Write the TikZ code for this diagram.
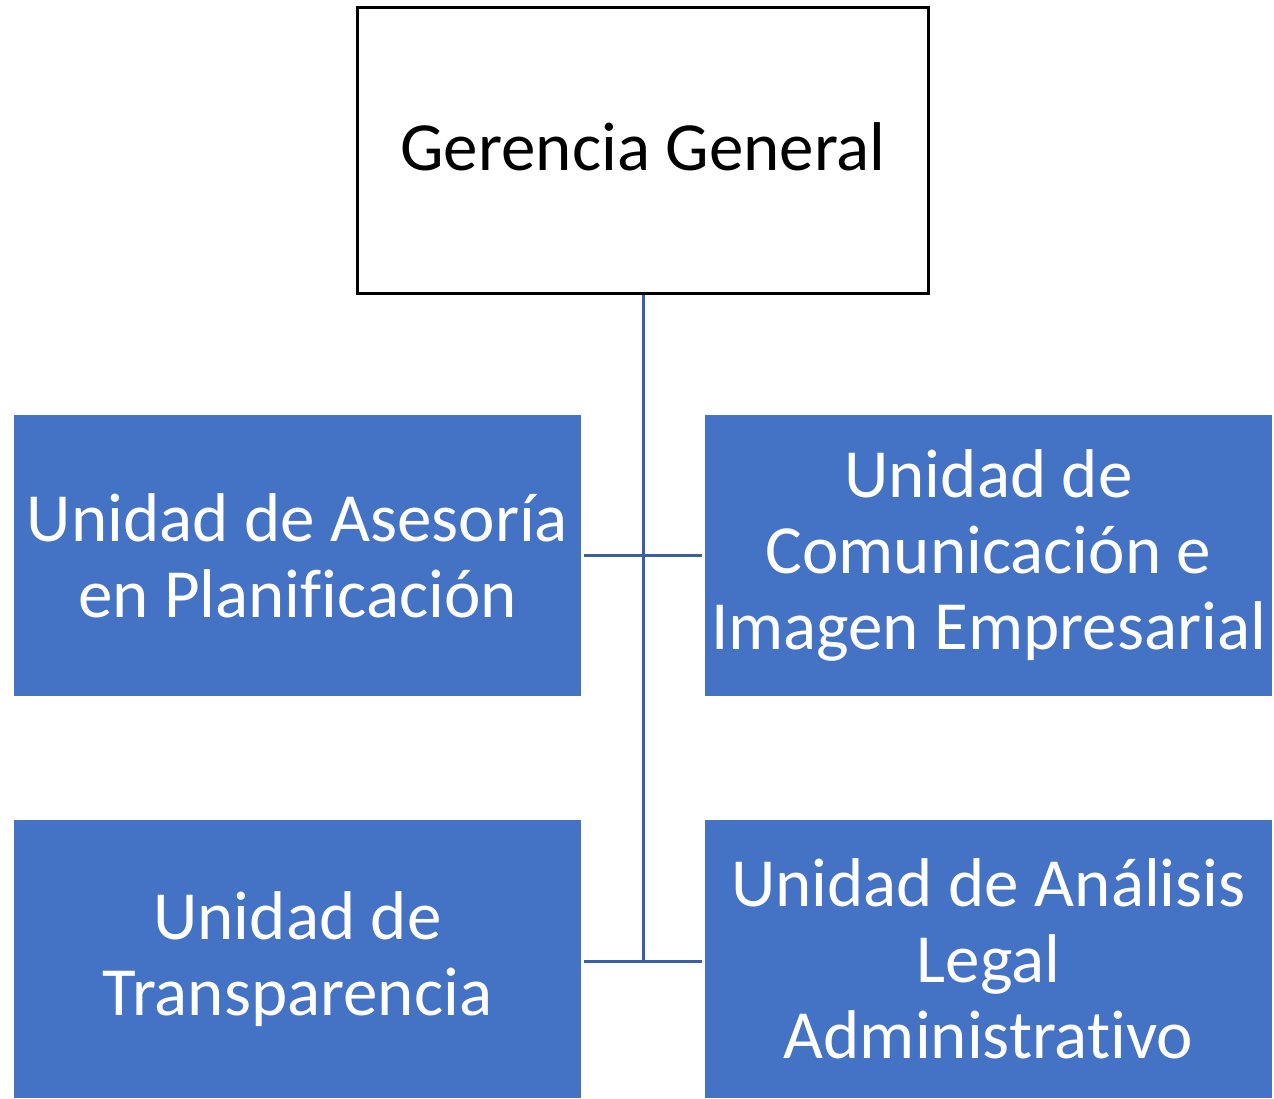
\documentclass[tikz,border=0pt]{standalone}
\usepackage{fontspec}
\setmainfont[Ligatures=NoCommon]{Carlito}
\definecolor{boxblue}{HTML}{4472C4}
\definecolor{linkblue}{HTML}{3A5FA8}
\begin{document}
\begin{tikzpicture}[x=1pt,y=-1pt,
  topbox/.style={draw=black,line width=3pt,fill=white,minimum width=571pt,minimum height=286pt,inner sep=0pt,
    font=\fontsize{69}{76}\selectfont,text=black},
  unitbox/.style={fill=boxblue,minimum width=567pt,inner sep=0pt,align=center,
    font=\fontsize{69}{76}\selectfont,text=white},
  link/.style={draw=linkblue,line width=3pt}]
\useasboundingbox (0,0) rectangle (1274,1098);
\node[topbox] (gg) at (643,150) {};
\node (ggt) at (643,147) [font=\fontsize{69}{76}\selectfont,inner sep=0pt] {Gerencia General};
\node[unitbox,minimum height=281pt] (ap) at (297.5,555.5) {Unidad de Asesoría\\en Planificación};
\node[unitbox,minimum height=281pt] (ci) at (988.5,555.5) {Unidad de\\Comunicación e\\Imagen Empresarial};
\node[unitbox,minimum height=278pt] (tr) at (297.5,959) {Unidad de\\Transparencia};
\node[unitbox,minimum height=278pt] (al) at (988.5,959) {Unidad de Análisis\\Legal\\Administrativo};
\coordinate (j2) at (643,961);
\draw[link] (gg.south) -- (j2);
\draw[link] ([xshift=3pt]ap.east) -- ([xshift=-3pt]ci.west);
\draw[link] ([xshift=3pt]tr.east |- j2) -- ([xshift=-3pt]al.west |- j2);
\end{tikzpicture}
\end{document}
